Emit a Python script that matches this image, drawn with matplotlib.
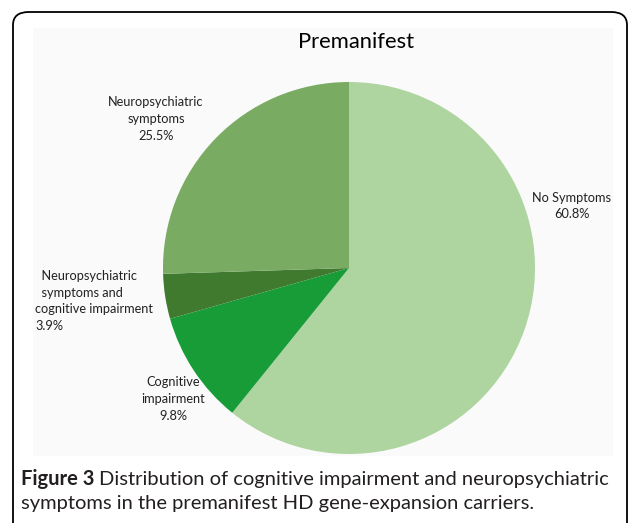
import matplotlib.pyplot as plt
from matplotlib.patches import FancyBboxPatch, Rectangle

# slice data, drawn clockwise from the top
categories = ['No Symptoms', 'Cognitive\nimpairment',
              '  Neuropsychiatric\n  symptoms and\ncognitive impairment',
              'Neuropsychiatric\nsymptoms']
values = [60.8, 9.8, 3.9, 25.5]
colors = ['#aed4a0', '#179c38', '#3f7a2f', '#79ab63']

W, H = 633, 523
fig = plt.figure(figsize=(W / 100, H / 100), dpi=100)
plt.rcParams['font.family'] = ['Lato', 'DejaVu Sans']

def fx(px):
    return px / W

def fy(py):
    return 1 - py / H

# outer rounded box and the chart area
fig.patches.append(FancyBboxPatch((fx(13), fy(560)), fx(614), (548) / H,
                                  boxstyle='round,pad=0,rounding_size=0.025',
                                  transform=fig.transFigure, fill=False,
                                  edgecolor='black', linewidth=1.3))
fig.patches.append(Rectangle((fx(33), fy(456)), fx(580), 428 / H,
                             transform=fig.transFigure, facecolor='#fafafa',
                             edgecolor='none', zorder=-5))

# pie axes: centre (349, 268) px, radius 186 px
cx, cy, r = 349, 268, 186
ax = fig.add_axes([fx(cx - r), fy(cy + r), 2 * r / W, 2 * r / H])
ax.set_zorder(5)
ax.pie(values, colors=colors, startangle=90, counterclock=False, radius=1,
       wedgeprops=dict(linewidth=0))
ax.set_xlim(-1, 1)
ax.set_ylim(-1, 1)
ax.set_aspect('auto')
ax.axis('off')

fig.text(fx(356), fy(42), 'Premanifest', ha='center', va='center',
         fontsize=15.8)

lab = dict(fontsize=9.2, color='#222222', linespacing=1.45, va='center')
fig.text(fx(572), fy(206), f'{categories[0]}\n{values[0]}%', ha='center',
         multialignment='center', **lab)
fig.text(fx(173), fy(399), f'{categories[1]}\n{values[1]}%', ha='center',
         multialignment='center', **lab)
fig.text(fx(35), fy(301), f'{categories[2]}\n{values[2]}%', ha='left',
         multialignment='left', **lab)
fig.text(fx(156), fy(119), f'{categories[3]}\n{values[3]}%', ha='center',
         multialignment='center', **lab)

# caption: bold lead-in, then the rest placed right after it
cap = dict(fontsize=14.5, color='#231f20', va='center')
t = fig.text(fx(21), fy(479), 'Figure 3', fontweight='bold', **cap)
renderer = fig.canvas.get_renderer()
x_end = t.get_window_extent(renderer).x1
fig.text(x_end / W + fx(5), fy(479),
         'Distribution of cognitive impairment and neuropsychiatric', **cap)
fig.text(fx(21), fy(503),
         'symptoms in the premanifest HD gene-expansion carriers.', **cap)

fig.savefig('out.png', dpi=100)
